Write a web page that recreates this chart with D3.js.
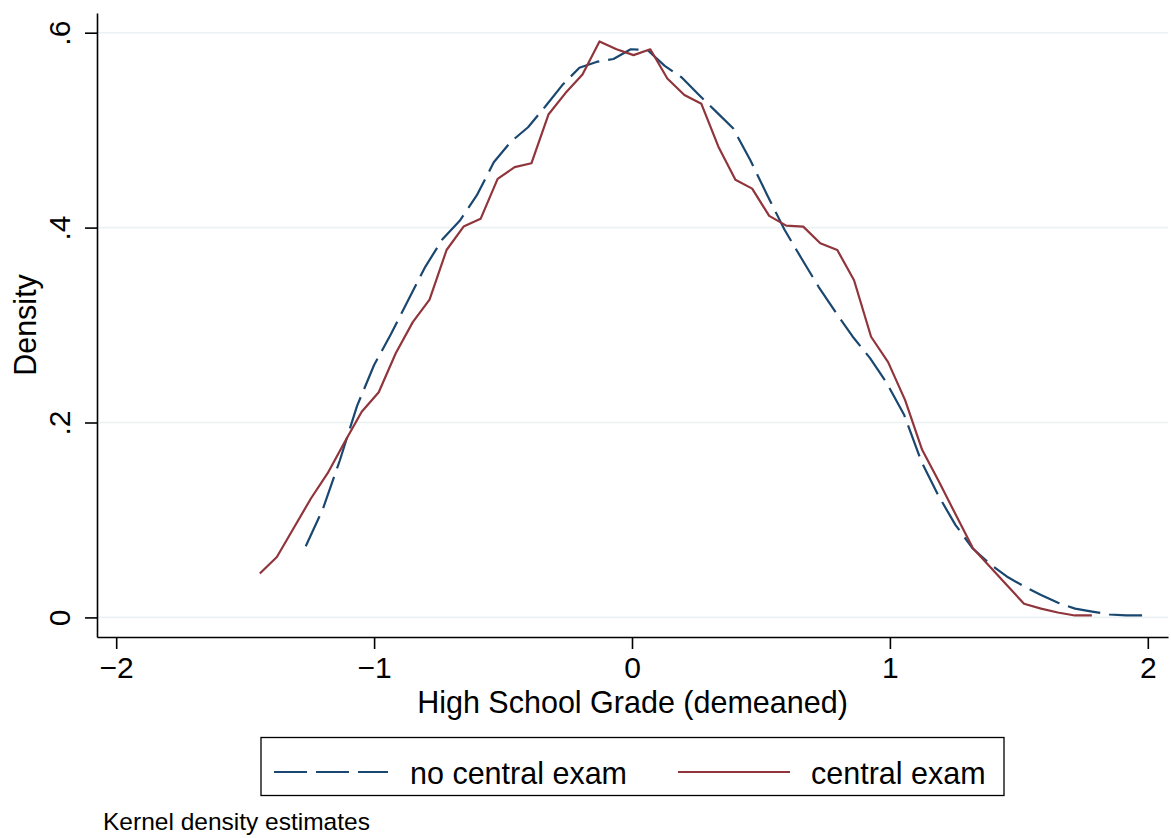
<!DOCTYPE html>
<html>
<head>
<meta charset="utf-8">
<script src="https://cdn.jsdelivr.net/npm/d3@7"></script>
<style>
	body { margin: 0; background: #fff; }
	svg { display: block; font-family: "Liberation Sans", Arial, Helvetica, sans-serif; }
</style>
</head>
<body>
<svg id="chart" width="1171" height="838"></svg>
<script>

	// kernel density estimates

	var noExamX = [-1.265, -1.199, -1.133, -1.066, -1.000, -0.934, -0.867, -0.801, -0.735, -0.668,
		-0.602, -0.536, -0.470, -0.403, -0.337, -0.271, -0.204, -0.138, -0.072, -0.005,
		0.061, 0.127, 0.193, 0.260, 0.326, 0.392, 0.459, 0.525, 0.591, 0.658,
		0.724, 0.790, 0.856, 0.923, 0.989, 1.055, 1.122, 1.188, 1.254, 1.320,
		1.387, 1.453, 1.519, 1.586, 1.652, 1.718, 1.784, 1.851, 1.917, 1.983];
	var noExamDensity = [0.073, 0.111, 0.161, 0.217, 0.259, 0.291, 0.326, 0.360, 0.388, 0.407,
		0.433, 0.467, 0.488, 0.503, 0.524, 0.546, 0.564, 0.570, 0.573, 0.583,
		0.582, 0.566, 0.554, 0.536, 0.519, 0.502, 0.469, 0.433, 0.398, 0.368,
		0.339, 0.313, 0.288, 0.266, 0.240, 0.208, 0.160, 0.125, 0.095, 0.071,
		0.055, 0.042, 0.032, 0.023, 0.015, 0.009, 0.006, 0.003, 0.002, 0.002];

	var examX = [-1.443, -1.377, -1.311, -1.245, -1.180, -1.114, -1.048, -0.982, -0.916, -0.850,
		-0.785, -0.719, -0.653, -0.587, -0.521, -0.455, -0.390, -0.324, -0.258, -0.192,
		-0.126, -0.060, 0.006, 0.071, 0.137, 0.203, 0.269, 0.335, 0.401, 0.466,
		0.532, 0.598, 0.664, 0.730, 0.796, 0.861, 0.927, 0.993, 1.059, 1.125,
		1.191, 1.256, 1.322, 1.388, 1.454, 1.520, 1.586, 1.651, 1.717, 1.783];
	var examDensity = [0.045, 0.062, 0.092, 0.122, 0.148, 0.180, 0.211, 0.231, 0.271, 0.303,
		0.326, 0.377, 0.401, 0.409, 0.450, 0.462, 0.466, 0.516, 0.538, 0.557,
		0.591, 0.583, 0.577, 0.583, 0.553, 0.536, 0.527, 0.483, 0.449, 0.440,
		0.412, 0.402, 0.401, 0.384, 0.377, 0.346, 0.288, 0.262, 0.223, 0.172,
		0.139, 0.105, 0.071, 0.052, 0.033, 0.014, 0.009, 0.005, 0.002, 0.002];

	var xTicks = [-2, -1, 0, 1, 2];
	var xTickLabels = ["\u22122", "\u22121", "0", "1", "2"];
	var yTicks = [0, 0.2, 0.4, 0.6];
	var yTickLabels = ["0", ".2", ".4", ".6"];

	var seriesNames = ["no central exam", "central exam"];
	var xTitle = "High School Grade (demeaned)";
	var yTitle = "Density";
	var note = "Kernel density estimates";

(function() {

	var navy = "#1a476f", maroon = "#90353b";

	var svg = d3.select("#chart");
	var plotLeft = 97, plotRight = 1168, plotTop = 13, plotBottom = 637;

	var x = d3.scaleLinear().domain([-2.0744, 2.0783]).range([plotLeft, plotRight]);
	var y = d3.scaleLinear().domain([-0.0201, 0.6202]).range([plotBottom, plotTop]);

	// gridlines first, underneath everything
	svg.append("g").attr("class", "grid")
		.selectAll("line")
		.data(yTicks).enter()
		.append("line")
			.attr("x1", plotLeft).attr("x2", plotRight)
			.attr("y1", function(d) { return y(d); })
			.attr("y2", function(d) { return y(d); })
			.attr("stroke", "#eaf2f3")
			.attr("stroke-width", 1.6);

	var line = d3.line()
		.x(function(d) { return x(d[0]); })
		.y(function(d) { return y(d[1]); });

	var noExam = d3.zip(noExamX, noExamDensity);
	var exam = d3.zip(examX, examDensity);

	svg.append("path")
		.attr("d", line(noExam))
		.attr("fill", "none")
		.attr("stroke", navy)
		.attr("stroke-width", 2.2)
		.attr("stroke-dasharray", "33,9")
		.attr("stroke-linejoin", "round");

	svg.append("path")
		.attr("d", line(exam))
		.attr("fill", "none")
		.attr("stroke", maroon)
		.attr("stroke-width", 2.2)
		.attr("stroke-linejoin", "round");

	// axes
	var xAxis = svg.append("g")
		.attr("transform", "translate(0," + plotBottom + ")")
		.call(d3.axisBottom(x)
			.tickValues(xTicks)
			.tickSize(12)
			.tickSizeOuter(0)
			.tickFormat(function(d, i) { return xTickLabels[i]; }));

	xAxis.selectAll("text")
		.attr("y", 41).attr("dy", 0)
		.attr("fill", "#000")
		.style("font-size", "30px");

	var yAxis = svg.append("g")
		.attr("transform", "translate(" + plotLeft + ",0)")
		.call(d3.axisLeft(y)
			.tickValues(yTicks)
			.tickSize(12)
			.tickSizeOuter(0)
			.tickFormat(function(d, i) { return yTickLabels[i]; }));

	yAxis.selectAll("text")
		.attr("transform", "rotate(-90)")
		.attr("x", 0).attr("y", -27).attr("dy", 0)
		.attr("text-anchor", "middle")
		.attr("fill", "#000")
		.style("font-size", "30px");

	svg.selectAll(".domain, .tick line")
		.attr("stroke", "#000")
		.attr("stroke-width", 1.6);

	// titles
	svg.append("text")
		.attr("x", (plotLeft + plotRight) / 2)
		.attr("y", 713)
		.attr("text-anchor", "middle")
		.style("font-size", "30.5px")
		.text(xTitle);

	svg.append("text")
		.attr("transform", "translate(36," + ((plotTop + plotBottom) / 2) + ") rotate(-90)")
		.attr("text-anchor", "middle")
		.style("font-size", "30.5px")
		.text(yTitle);

	// legend
	var legend = svg.append("g").attr("class", "legend");

	legend.append("rect")
		.attr("x", 261).attr("y", 737.5)
		.attr("width", 743).attr("height", 58)
		.attr("fill", "#fff")
		.attr("stroke", "#000")
		.attr("stroke-width", 1.3);

	var legendItems = [
		{ name: seriesNames[0], color: navy, dash: "33,9", x1: 274, x2: 388, tx: 410 },
		{ name: seriesNames[1], color: maroon, dash: null, x1: 678, x2: 790, tx: 811 }
	];

	legendItems.forEach(function(d) {
		legend.append("line")
			.attr("x1", d.x1).attr("x2", d.x2)
			.attr("y1", 772).attr("y2", 772)
			.attr("stroke", d.color)
			.attr("stroke-width", 2.2)
			.attr("stroke-dasharray", d.dash);
		legend.append("text")
			.attr("x", d.tx).attr("y", 784)
			.style("font-size", "30.5px")
			.text(d.name);
	});

	svg.append("text")
		.attr("x", 103).attr("y", 830)
		.style("font-size", "24.5px")
		.text(note);

})();

</script>
</body>
</html>
